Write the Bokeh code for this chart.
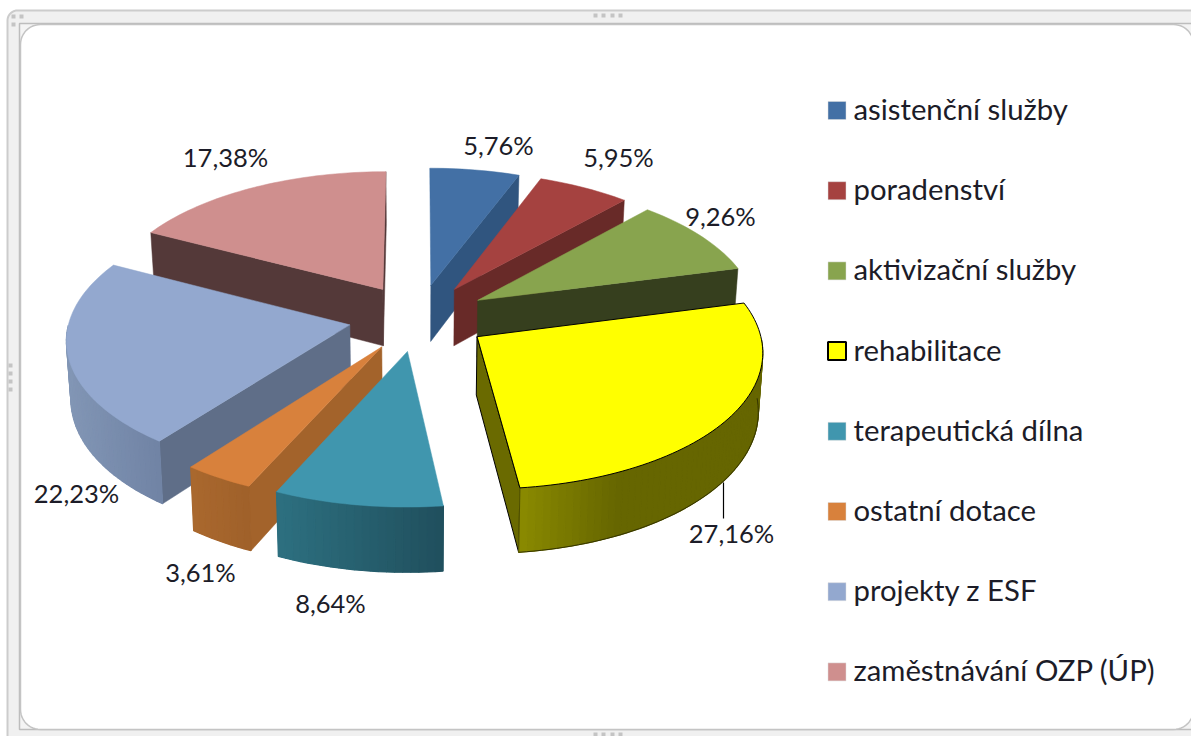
import math
from bokeh.plotting import figure
from bokeh.embed import file_html
from bokeh.resources import INLINE
from bokeh.core.properties import value

categories = ["asistenční služby", "poradenství", "aktivizační služby", "rehabilitace",
              "terapeutická dílna", "ostatní dotace", "projekty z ESF", "zaměstnávání OZP (ÚP)"]
shares = [5.76, 5.95, 9.26, 27.16, 8.64, 3.61, 22.23, 17.38]
share_labels = ["5,76%", "5,95%", "9,26%", "27,16%", "8,64%", "3,61%", "22,23%", "17,38%"]

top_colors = ["#4370a5", "#a54240", "#88a44e", "#ffff00", "#4096ae", "#d8813c", "#93a8cf", "#cf8f8e"]
cut_colors = ["#30557f", "#682a28", "#363f1e", "#6a6a00", "#2a6878", "#a3632b", "#5f6e88", "#543939"]
rim_left = ["#30557f", "#682a28", "#363f1e", "#8a8a00", "#2d7080", "#aa682e", "#8296b5", "#543939"]
rim_right = ["#30557f", "#682a28", "#363f1e", "#666600", "#204f5d", "#9f612a", "#7083a5", "#543939"]
paint_order = [7, 0, 1, 2, 6, 5, 4, 3]
label_xy = [(498, 144), (618, 156), (720, 215), (731, 532), (330, 602), (200, 571), (76, 492), (225, 156)]

CX, CY, A, B, K, EXPLODE, DEPTH, SHRINK = 418.0, 317.0, 280.0, 134.0, 0.095, 0.25, 57.5, 0.987
W, H = 1191, 736

p = figure(width=W, height=H, x_range=(0, W), y_range=(H, 0), toolbar_location=None,
           output_backend="svg", min_border=0)
p.axis.visible = False
p.grid.visible = False
p.outline_line_color = None
p.background_fill_color = "white"
p.border_fill_color = "white"


def rounded(x0, y0, x1, y1, r):
    xs, ys = [], []
    for cx, cy, a0 in ((x1 - r, y0 + r, -90), (x1 - r, y1 - r, 0), (x0 + r, y1 - r, 90), (x0 + r, y0 + r, 180)):
        for i in range(13):
            a = math.radians(a0 + 7.5 * i)
            xs.append(cx + r * math.cos(a))
            ys.append(cy + r * math.sin(a))
    return xs, ys


xs, ys = rounded(7, 10, 1210, 760, 10)
p.patch(xs, ys, fill_color="#f0f0f0", line_color="#cccccc", line_width=2)
p.patch([19, 1200, 1200, 19], [23, 23, 729, 729], fill_color="#f4f4f4", line_color="#bdbdbd", line_width=1.5)
xs, ys = rounded(20, 24, 1193, 729, 20)
p.patch(xs, ys, fill_color="white", line_color="#c4c4c4", line_width=1.5)
grip_x = [13, 21, 13, 595, 603, 612, 620, 10, 10, 10, 10, 595, 603, 612, 620]
grip_y = [16, 16, 24, 15, 15, 15, 15, 365, 373, 381, 389, 734, 734, 734, 734]
p.rect(grip_x, grip_y, width=4, height=4, fill_color="#c4c4c4", line_color=None)


def project(u, v, low=False):
    s = 1 / (1 + K * v)
    x = CX + A * u * s
    y = CY - B * v * s
    if low:
        x = CX + (x - CX) * SHRINK
        y += DEPTH * s
    return x, y


def mix(c0, c1, t):
    a = [int(c0[i:i + 2], 16) for i in (1, 3, 5)]
    b = [int(c1[i:i + 2], 16) for i in (1, 3, 5)]
    return "#%02x%02x%02x" % tuple(round(a[i] + (b[i] - a[i]) * t) for i in range(3))


total = sum(shares)
starts = [sum(shares[:i]) / total * 2 * math.pi for i in range(len(shares))]
for idx in paint_order:
    t0 = starts[idx]
    t1 = t0 + shares[idx] / total * 2 * math.pi
    mid = (t0 + t1) / 2
    ou, ov = EXPLODE * math.sin(mid), EXPLODE * math.cos(mid)
    n = max(6, int((t1 - t0) * 40))
    rim = [(ou + math.sin(t0 + (t1 - t0) * i / n), ov + math.cos(t0 + (t1 - t0) * i / n)) for i in range(n + 1)]
    edge = "black" if idx == 3 else None
    ax, ay = project(ou, ov)
    r0x, _ = project(*rim[0])
    r1x, _ = project(*rim[-1])

    for end, cx in ((rim[0], r0x), (rim[-1], r1x)):
        visible = cx < ax if end is rim[0] else cx > ax
        if visible and abs(cx - ax) > 2:
            q = [project(ou, ov), project(*end), project(*end, low=True), project(ou, ov, low=True)]
            p.patch([c[0] for c in q], [c[1] for c in q], fill_color=cut_colors[idx],
                    line_color=edge or cut_colors[idx], line_width=1 if idx == 3 else 0.5)

    front = [r for r in rim if r[1] - ov < 0]
    if len(front) > 1:
        fx = [project(*r)[0] for r in front]
        lo, hi = min(fx), max(fx)
        low_pts = [project(*r, low=True) for r in front]
        up_pts = [project(*r) for r in front]
        # one underlying wall in the mean colour hides any seam between the strips
        under = up_pts + low_pts[::-1]
        p.patch([k[0] for k in under], [k[1] for k in under],
                fill_color=mix(rim_left[idx], rim_right[idx], 0.5), line_color=None)
        for i in range(len(front) - 1):
            q = [up_pts[i], up_pts[i + 1], low_pts[i + 1], low_pts[i]]
            tt = ((q[0][0] + q[1][0]) / 2 - lo) / (hi - lo)
            c = mix(rim_left[idx], rim_right[idx], min(1, tt * (2.5 if idx == 3 else 1)))
            p.patch([k[0] for k in q], [k[1] for k in q], fill_color=c, line_color=c, line_width=1.2)
        if idx == 3:
            p.line([k[0] for k in low_pts], [k[1] for k in low_pts], line_color="#333300", line_width=1)
            p.line([up_pts[-1][0], low_pts[-1][0]], [up_pts[-1][1], low_pts[-1][1]], line_color="#333300", line_width=0.7)

    top = [project(ou, ov)] + [project(*r) for r in rim]
    p.patch([c[0] for c in top], [c[1] for c in top], fill_color=top_colors[idx],
            line_color=edge or top_colors[idx], line_width=1 if idx == 3 else 0.5)

p.line([723, 723], [482, 518], line_color="black", line_width=1.2)

p.text([c[0] for c in label_xy], [c[1] for c in label_xy], text=share_labels,
       text_font=value("Lato"), text_font_size="25.5px", text_color="#1c1c28",
       text_align="center", text_baseline="middle")

rows = [110 + 80.2 * i for i in range(len(categories))]
p.rect([836.5] * 8, rows, width=18, height=18, fill_color=top_colors,
       line_color=["black" if c == "#ffff00" else "#dddddd" for c in top_colors],
       line_width=[2 if c == "#ffff00" else 0.5 for c in top_colors])
p.text([853] * 8, [r - 2 for r in rows], text=categories, text_font=value("Lato"), text_font_size="29.3px",
       text_color="#1c1c28", text_align="left", text_baseline="middle")

open("out.html", "w").write(file_html(p, INLINE))
